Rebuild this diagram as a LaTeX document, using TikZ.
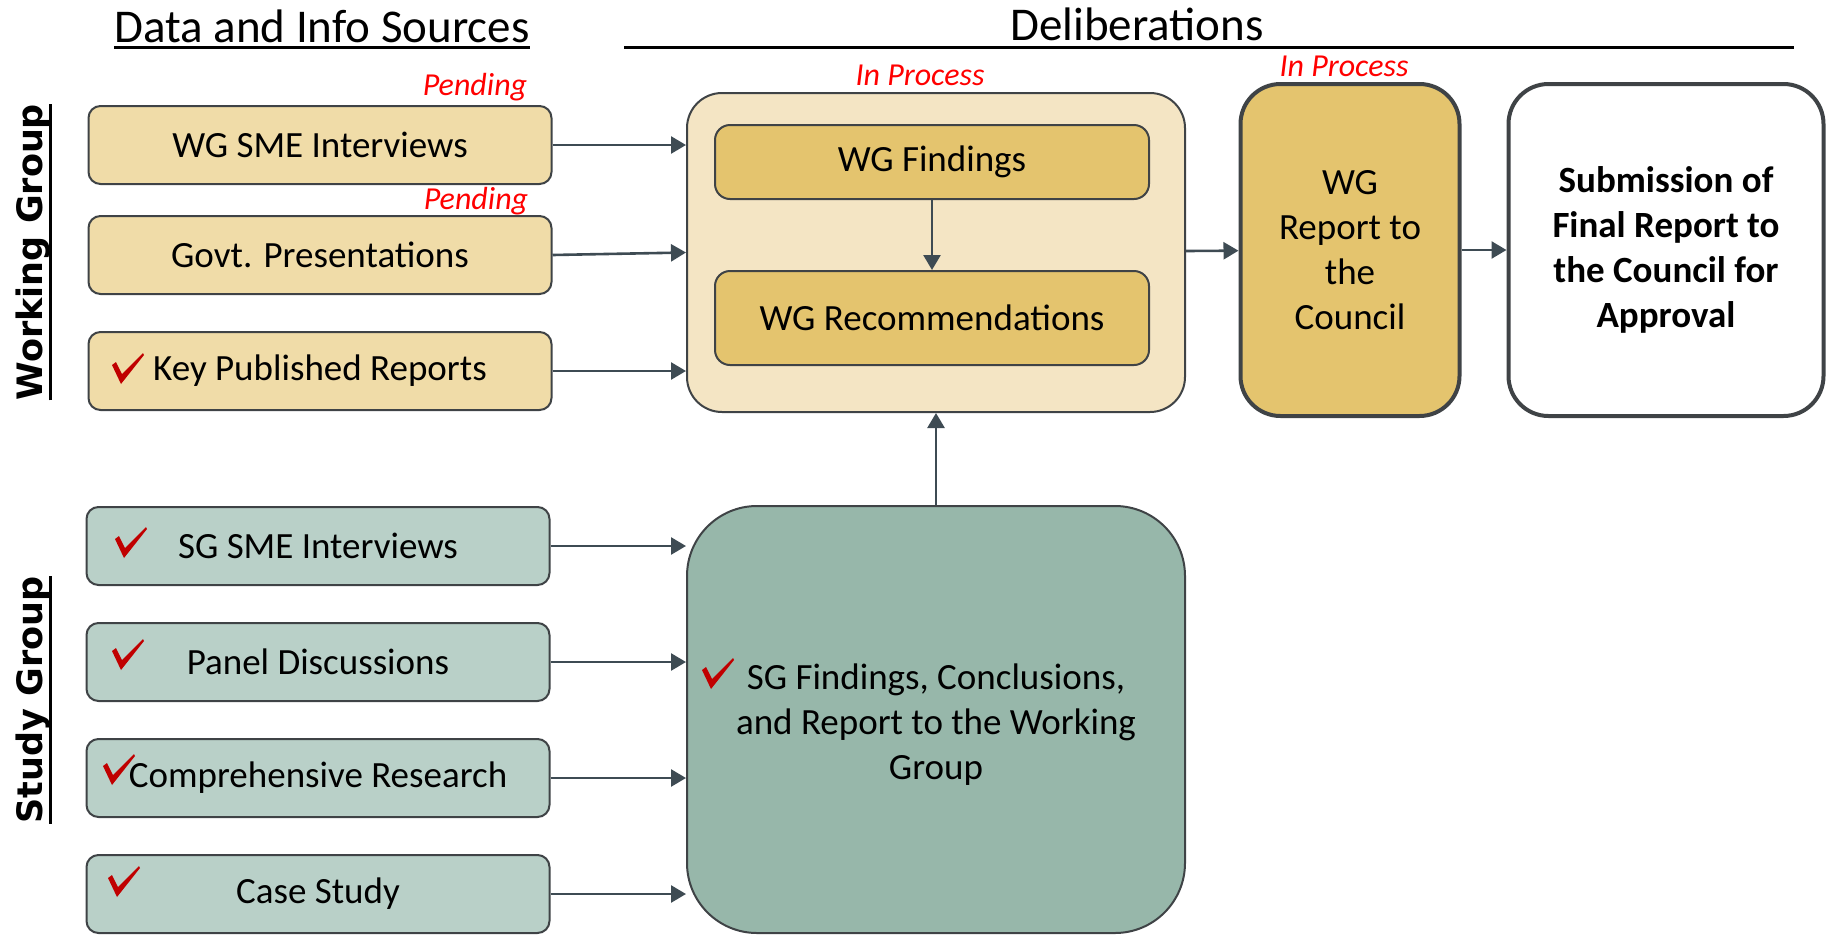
\documentclass[tikz,border=0pt]{standalone}
\usepackage{fontspec}
\setmainfont{Carlito}
\newfontfamily\sidefont{DejaVu Sans}
\usetikzlibrary{arrows.meta,positioning}

\definecolor{wgsrc}{HTML}{F0DCA8}
\definecolor{wgback}{HTML}{F4E5C4}
\definecolor{wggold}{HTML}{E4C46E}
\definecolor{sgsrc}{HTML}{B9D0C8}
\definecolor{sgback}{HTML}{97B7AA}
\definecolor{edgegray}{HTML}{3F4346}
\definecolor{arrowgray}{HTML}{3E4B53}
\definecolor{tickred}{HTML}{C00000}

\newcommand{\boxsize}{\fontsize{37}{45}\selectfont}
\newcommand{\titlesize}{\fontsize{47}{52}\selectfont}

\tikzset{
  srcbox/.style={draw=edgegray, line width=2pt, rounded corners=12pt,
    minimum width=463pt, minimum height=78pt, inner sep=0pt, font=\boxsize},
  wgsrcbox/.style={srcbox, fill=wgsrc},
  sgsrcbox/.style={srcbox, fill=sgsrc},
  goldbox/.style={draw=edgegray, line width=2pt, rounded corners=15pt, fill=wggold,
    minimum width=434pt, minimum height=74pt, inner sep=0pt, font=\boxsize},
  backbox/.style={draw=edgegray, line width=2pt, minimum width=498pt, inner sep=0pt},
  endbox/.style={draw=edgegray, line width=4pt, rounded corners=40pt, align=center,
    minimum height=332pt, inner sep=0pt, font=\boxsize},
  status/.style={text=red, font=\fontsize{32}{36}\selectfont\itshape, inner sep=0pt},
  sidelabel/.style={rotate=90, inner sep=0pt, font=\sidefont\bfseries\fontsize{35}{40}\selectfont},
  heading/.style={anchor=base, inner xsep=0pt, inner ysep=5pt, font=\titlesize},
  flow/.style={draw=arrowgray, line width=2.6pt, -{Triangle[length=15pt,width=17pt]}},
  % red tick, drawn round its middle
  tickmark/.pic={
    \fill[tickred] (-16,-4) -- (-12,-7) -- (-6,5) -- (15,-16) -- (16,-14) -- (-7,15) -- cycle;
  }
}

\begin{document}
\begin{tikzpicture}[x=1pt, y=-1pt, node distance=36pt]
  \useasboundingbox (0,0) rectangle (1829,935);

  % column headings
  \node[heading] (srchead) at (322,42) {Data and Info Sources};
  \draw[line width=3pt] (srchead.south west) -- (srchead.south east);
  \node[heading] (delhead) at (1137,40) {Deliberations};
  \coordinate (delleft)  at (624,47);
  \coordinate (delright) at (1794,47);
  \draw[line width=3pt] (delleft) -- (delright);

  % side labels
  \node[sidelabel] (wglabel) at (33,252) {Working Group};
  \draw[line width=3pt] (wglabel.south west) -- (wglabel.south east);
  \node[sidelabel] (sglabel) at (33,700) {Study Group};
  \draw[line width=3pt] (sglabel.south west) -- (sglabel.south east);

  % working group sources
  \node[wgsrcbox] (wgsme) at (320,145) {WG SME Interviews};
  \node[wgsrcbox] (govt)  at (320,255) {Govt. Presentations};
  \node[wgsrcbox] (keyrep) at (320,371) {Key Published Reports};
  \node[status] (pendsme)  at (475,87)  {Pending};
  \node[status] (pendgovt) at (476,201) {Pending};
  \pic at (128,369) {tickmark};

  % study group sources
  \node[sgsrcbox] (sgsme)  at (318,546) {SG SME Interviews};
  \node[sgsrcbox] (panel)  [below=of sgsme]  {Panel Discussions};
  \node[sgsrcbox] (compre) [below=of panel]  {Comprehensive Research};
  \node[sgsrcbox] (casest) [below=of compre] {Case Study};
  \pic at (131,543) {tickmark};
  \pic at (128,655) {tickmark};
  \pic at (119,770) {tickmark};
  \pic at (124,882) {tickmark};

  % deliberations
  \node[backbox, fill=wgback, minimum height=319pt, rounded corners=35pt] (wgdelib) at (936,252.5) {};
  \node[goldbox] (findings) at (932,162) {WG Findings};
  \node[goldbox, minimum height=94pt] (recs) at (932,318) {WG Recommendations};
  \node[status] (procwg) at (920,75) {In Process};

  \node[backbox, fill=sgback, minimum height=427pt, rounded corners=70pt] (sgdelib) at (936,719.5) {};
  \node[align=center, font=\boxsize] (sgtext) at (936,725)
        {SG Findings, Conclusions,\\and Report to the Working\\Group};
  \pic at (718,674) {tickmark};

  \node[endbox, fill=wggold, minimum width=219pt] (wgreport) at (1350,250)
        {WG\\Report to\\the\\Council};
  \node[status] (procrep) at (1344,66) {In Process};
  \node[endbox, fill=white, minimum width=315pt, font=\boxsize\bfseries] (submit) at (1666,250)
        {Submission of\\Final Report to\\the Council for\\Approval};

  \path (wgsme.east)  edge[flow] (wgsme.east -| wgdelib.west)
        (govt.east)   edge[flow] (wgdelib.west)
        (keyrep.east) edge[flow] (keyrep.east -| wgdelib.west)
        (findings)    edge[flow] (recs)
        (sgdelib)     edge[flow] (wgdelib)
        (wgdelib)     edge[flow] (wgreport)
        (wgreport)    edge[flow] (submit)
        (sgsme.east)  edge[flow] (sgsme.east -| sgdelib.west)
        (panel.east)  edge[flow] (panel.east -| sgdelib.west)
        (compre.east) edge[flow] (compre.east -| sgdelib.west)
        (casest.east) edge[flow] (casest.east -| sgdelib.west);
\end{tikzpicture}
\end{document}
